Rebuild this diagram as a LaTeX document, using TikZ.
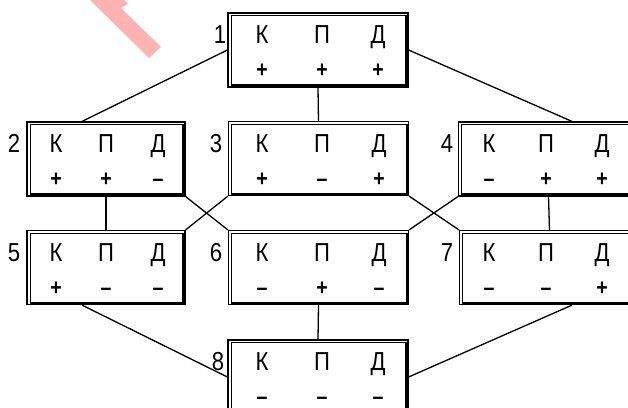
\documentclass[tikz,border=0pt]{standalone}
\usepackage{fontspec}
\setmainfont{Liberation Sans}[FakeStretch=0.85]
\newcommand\kpd[9]{%
  \node[lt] (k#1) at (#2+#4,#3+30) {К};
  \node[lt] (p#1) at (#2+#5,#3+30) {П};
  \node[lt] (d#1) at (#2+#6,#3+30) {Д};
  \node[sg] (sk#1) at (#2+#4,#3+64) {#7};
  \node[sg] (sp#1) at (#2+#5,#3+64) {#8};
  \node[sg] (sd#1) at (#2+#6,#3+64) {#9};
}
\begin{document}
\begin{tikzpicture}[x=1pt,y=-1pt,
  box/.style={draw, line width=1.2pt, rectangle, inner sep=0pt, minimum height=74pt},
  wide/.style={box, minimum width=180pt},
  narrow/.style={box, minimum width=158pt},
  conn/.style={line width=1.3pt},
  lt/.style={font=\fontsize{26}{26}\selectfont, inner sep=0pt, anchor=base},
  num/.style={font=\fontsize{26}{26}\selectfont, inner sep=0pt, anchor=base},
  sg/.style={font=\fontsize{23}{23}\selectfont\bfseries, inner sep=0pt, anchor=base},
]
\useasboundingbox (0,0) rectangle (628,407);
\clip (0,0) rectangle (628,407);
% pink mark
\fill[fill={rgb,255:red,255;green,178;blue,178}] (90,0) -- (124,0) -- (128,4) -- (121,8) -- (161,47) -- (149,58) -- cycle;
% boxes
\node[wide] (b1) at (318,50) {};
\node[narrow] (b2) at (106,159) {};
\node[wide] (b3) at (318.5,158.5) {};
\node[wide] (b4) at (548.5,159) {};
\node[narrow] (b5) at (106,267.5) {};
\node[wide] (b6) at (318.5,267.5) {};
\node[wide] (b7) at (549.5,267.5) {};
\node[wide] (b8) at (318,377) {};
\foreach \n in {b1,b2,b3,b4,b5,b6,b7,b8} {
  \draw[line width=1pt] ([xshift=4pt]\n.south west) -- ([xshift=4pt,yshift=-3.5pt]\n.north west) -- ([xshift=-2pt,yshift=-3.5pt]\n.north east);
  \draw[line width=3pt] ([xshift=-2pt,yshift=-3.5pt]\n.north east) -- ([xshift=-2pt,yshift=2pt]\n.south east) -- ([xshift=4pt,yshift=2pt]\n.south west);
}
% labels
\node[num] (n1) at (220,43) {1};
\node[num] (n2) at (14,152) {2};
\node[num] (n3) at (216,152) {3};
\node[num] (n4) at (447,152) {4};
\node[num] (n5) at (14,261) {5};
\node[num] (n6) at (216,261) {6};
\node[num] (n7) at (447,261) {7};
\node[num] (n8) at (218,370) {8};
% contents
\kpd{1}{228}{13}{34}{94}{150}{+}{+}{+}
\kpd{2}{27}{122}{29}{79}{131}{+}{+}{–}
\kpd{3}{229}{122}{33}{93}{150}{+}{–}{+}
\kpd{4}{459}{122}{30}{87}{143}{–}{+}{+}
\kpd{5}{27}{231}{29}{79}{131}{+}{–}{–}
\kpd{6}{229}{231}{33}{93}{150}{–}{+}{–}
\kpd{7}{460}{231}{29}{86}{142}{–}{–}{+}
\kpd{8}{228}{340}{34}{94}{150}{–}{–}{–}
% connectors
\draw[conn] (b1.west) -- ([xshift=-24pt]b2.north);
\draw[conn] (b1.south) -- (b3.north);
\draw[conn] (b1.east) -- ([xshift=23.5pt]b4.north);
\draw[conn] (b2.south) -- (b5.north);
\draw[conn] (b2.south east) -- (b6.north west);
\draw[conn] (b3.south west) -- (b5.north east);
\draw[conn] (b3.south east) -- (b7.north west);
\draw[conn] (b4.south west) -- (b6.north east);
\draw[conn] (b4.south) -- (b7.north);
\draw[conn] ([xshift=-24pt]b5.south) -- (b8.west);
\draw[conn] (b6.south) -- (b8.north);
\draw[conn] ([xshift=22.5pt]b7.south) -- (b8.east);
\end{tikzpicture}
\end{document}
